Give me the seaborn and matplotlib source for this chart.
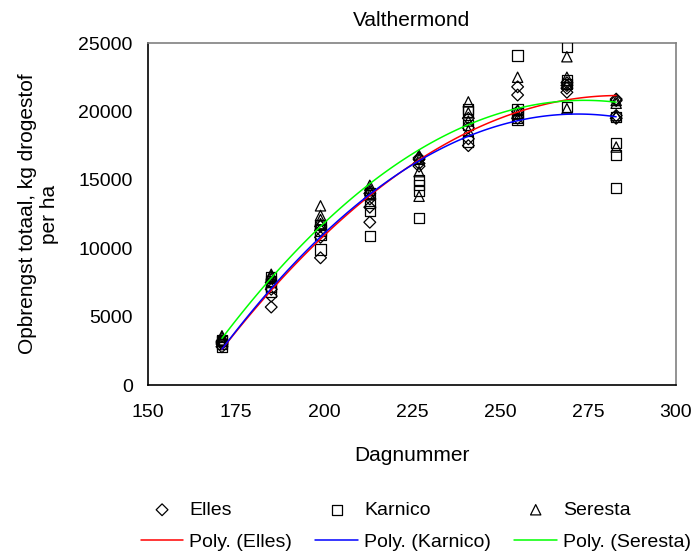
import numpy as np
import pandas as pd
import seaborn as sns
import matplotlib
matplotlib.use('Agg')
import matplotlib.pyplot as plt

sns.set_style('white')
plt.rcParams['font.family'] = ['Liberation Sans', 'DejaVu Sans']
plt.rcParams['text.color'] = 'black'
plt.rcParams['axes.labelcolor'] = 'black'

# harvest days
dagen = [171, 185, 199, 213, 227, 241, 255, 269, 283]

# yields (kg ds/ha), 4 replicates per harvest day
elles = [
    [2800, 3000, 3100, 3200],
    [5700, 6500, 7000, 7500],
    [9300, 10800, 11300, 11600],
    [11900, 13000, 13600, 14000],
    [16000, 16200, 16500, 16600],
    [17500, 18000, 18800, 19500],
    [19500, 20000, 21200, 21800],
    [21400, 21700, 21900, 22100],
    [19500, 19700, 20800, 20900],
]
karnico = [
    [2800, 3000, 3200, 3300],
    [6800, 7200, 7600, 7900],
    [9900, 11000, 11300, 11700],
    [10900, 12700, 13300, 14000],
    [12200, 14200, 14600, 15000],
    [17800, 19000, 20000, 20200],
    [19400, 19900, 20200, 24100],
    [20300, 22000, 22300, 24700],
    [14400, 16800, 17700, 19600],
]
seresta = [
    [3200, 3300, 3500, 3600],
    [7500, 7800, 8000, 8100],
    [11800, 12100, 12400, 13100],
    [13900, 14200, 14400, 14600],
    [13800, 15600, 16500, 16800],
    [18600, 19300, 19900, 20700],
    [19500, 19800, 20100, 22500],
    [20200, 22000, 22500, 24000],
    [17400, 19700, 20600, 20800],
]

rassen = ['Elles', 'Karnico', 'Seresta']
markers = {'Elles': 'D', 'Karnico': 's', 'Seresta': '^'}
sizes = {'Elles': 36, 'Karnico': 55, 'Seresta': 55}
lijnkleur = {'Elles': '#ff0000', 'Karnico': '#0000ff', 'Seresta': '#00ff00'}

rows = []
for ras, waarden in zip(rassen, [elles, karnico, seresta]):
    for d, reps in zip(dagen, waarden):
        for v in reps:
            rows.append({'ras': ras, 'dag': d, 'opbrengst': v})
df = pd.DataFrame(rows)

fig = plt.figure(figsize=(6.93, 5.52), dpi=100)
ax = fig.add_axes([0.2136, 0.3025, 0.7619, 0.6195])

# fitted 2nd order polynomial trendlines (like Excel "Poly.")
xs = np.linspace(min(dagen), max(dagen), 120)
fits = []
for ras in rassen:
    sub = df[df.ras == ras]
    coef = np.polyfit(sub.dag, sub.opbrengst, 2)
    fits.append(pd.DataFrame({'ras': ras, 'dag': xs, 'fit': np.polyval(coef, xs)}))
fitdf = pd.concat(fits)

for ras in rassen:
    sns.scatterplot(data=df[df.ras == ras], x='dag', y='opbrengst', marker=markers[ras],
                    s=sizes[ras], facecolor='none', edgecolor='black', linewidth=0.9,
                    ax=ax, label=ras, zorder=3)
for ras in rassen:
    sns.lineplot(data=fitdf[fitdf.ras == ras], x='dag', y='fit', color=lijnkleur[ras],
                 linewidth=1.1, ax=ax, label=f'Poly. ({ras})', zorder=4)

ax.set_xlim(150, 300)
ax.set_ylim(0, 25000)
ax.set_xticks(range(150, 301, 25))
ax.set_yticks(range(0, 25001, 5000))
ax.tick_params(direction='in', length=5, width=1, labelsize=14, colors='black')
ax.tick_params(axis='x', pad=14)
ax.tick_params(axis='y', pad=11)
for s in ['left', 'bottom']:
    ax.spines[s].set_color('black')
    ax.spines[s].set_linewidth(1.2)
for s in ['top', 'right']:
    ax.spines[s].set_color('#808080')
    ax.spines[s].set_linewidth(1.2)

ax.set_title('Valthermond', fontsize=15, pad=12)
ax.set_xlabel('Dagnummer', fontsize=15, labelpad=18)
ax.set_ylabel('Opbrengst totaal, kg drogestof\nper ha', fontsize=15, labelpad=14,
              multialignment='center')

handles, labels = ax.get_legend_handles_labels()
ax.get_legend().remove()
order = [0, 3, 1, 4, 2, 5]
fig.legend([handles[i] for i in order], [labels[i] for i in order],
           loc='lower center', bbox_to_anchor=(0.6, -0.03), ncol=3, frameon=False,
           fontsize=14, handlelength=2.2, handletextpad=0.3, columnspacing=1.2,
           labelspacing=0.75)

fig.savefig('out.png', dpi=100)
